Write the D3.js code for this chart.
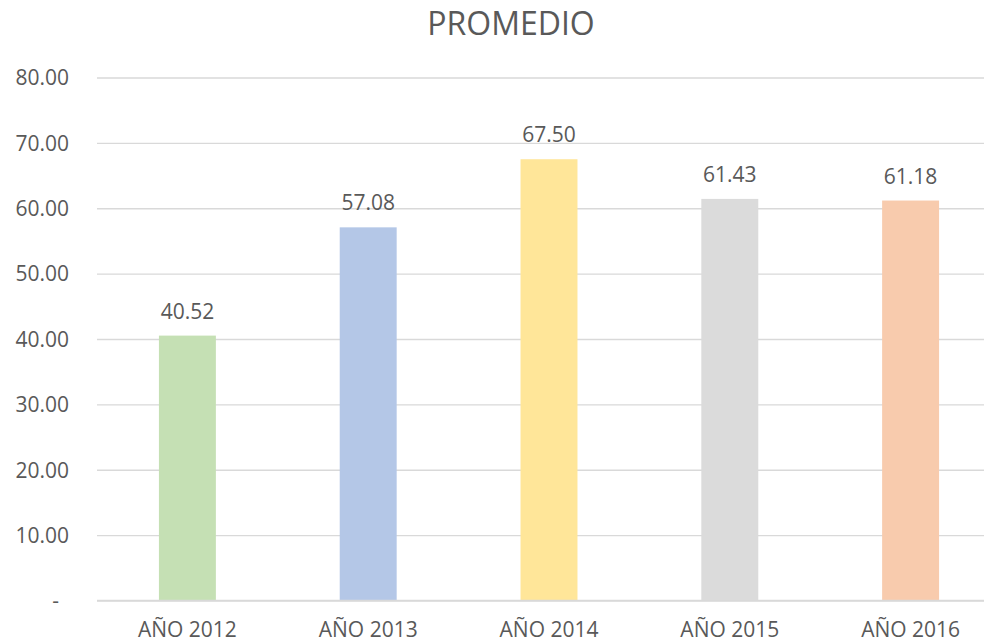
<!DOCTYPE html>
<html><head><meta charset="utf-8">
<script src="https://cdn.jsdelivr.net/npm/d3@7"></script>
<style>html,body{margin:0;padding:0;background:#fff;overflow:hidden}</style>
</head><body>
<script>
const categories = ["AÑO 2012","AÑO 2013","AÑO 2014","AÑO 2015","AÑO 2016"];
const values = [40.52, 57.08, 67.50, 61.43, 61.18];
const colors = ["#C5E0B4","#B4C7E7","#FFE699","#DBDBDB","#F8CBAD"];
const tickValues = [0,10,20,30,40,50,60,70,80];
const title = "PROMEDIO";

(function () {
const W = 984, H = 643;
const font = "'Open Sans', sans-serif";
const txt = "#595959";
const svg = d3.select("body").append("svg").attr("width", W).attr("height", H)
  .style("font-family", font);

const mLeft = 97, mRight = 1001, mTop = 77.5, mBottom = 600.5;
const x = d3.scaleBand().domain(categories).range([mLeft, mRight]).paddingInner(0.685).paddingOuter(0.3425);
const y = d3.scaleLinear().domain([0, 80]).range([mBottom, mTop]);

svg.append("text").attr("x", 511).attr("y", 35).attr("text-anchor", "middle")
  .attr("font-size", 32).attr("fill", txt).text(title);

const yAxis = d3.axisLeft(y).tickValues(tickValues).tickSize(-(W - mLeft + 20))
  .tickFormat(d => d === 0 ? "-" : d3.format(".2f")(d));
const ga = svg.append("g").attr("transform", `translate(${mLeft},0)`).call(yAxis);
ga.select(".domain").remove();
ga.selectAll(".tick line").attr("stroke", "#d9d9d9").attr("stroke-width", 1.4);
ga.selectAll(".tick text").attr("x", -28).attr("dy", "0.35em")
  .attr("font-size", 21).attr("fill", txt).attr("font-family", font);
ga.selectAll(".tick").filter(d => d === 0).select("text").attr("x", -38);

svg.selectAll("rect.bar").data(values).join("rect").attr("class", "bar")
  .attr("x", (d, i) => x(categories[i]))
  .attr("width", x.bandwidth())
  .attr("y", d => y(d))
  .attr("height", d => y(0) - y(d))
  .attr("fill", (d, i) => colors[i]);

svg.selectAll("text.val").data(values).join("text").attr("class", "val")
  .attr("x", (d, i) => x(categories[i]) + x.bandwidth() / 2)
  .attr("y", d => y(d) - 17)
  .attr("text-anchor", "middle").attr("font-size", 21).attr("fill", txt)
  .text(d => d3.format(".2f")(d));

const xAxis = d3.axisBottom(x).tickSize(0).tickPadding(0);
const gx = svg.append("g").attr("transform", `translate(0,${mBottom})`).call(xAxis);
gx.select(".domain").attr("stroke", "#d9d9d9").attr("stroke-width", 1.4)
  .attr("d", `M${mLeft},0H${W + 20}`);
gx.selectAll(".tick text").attr("y", 36).attr("dy", 0)
  .attr("font-size", 21).attr("fill", txt).attr("font-family", font);
})();
</script>
</body></html>
